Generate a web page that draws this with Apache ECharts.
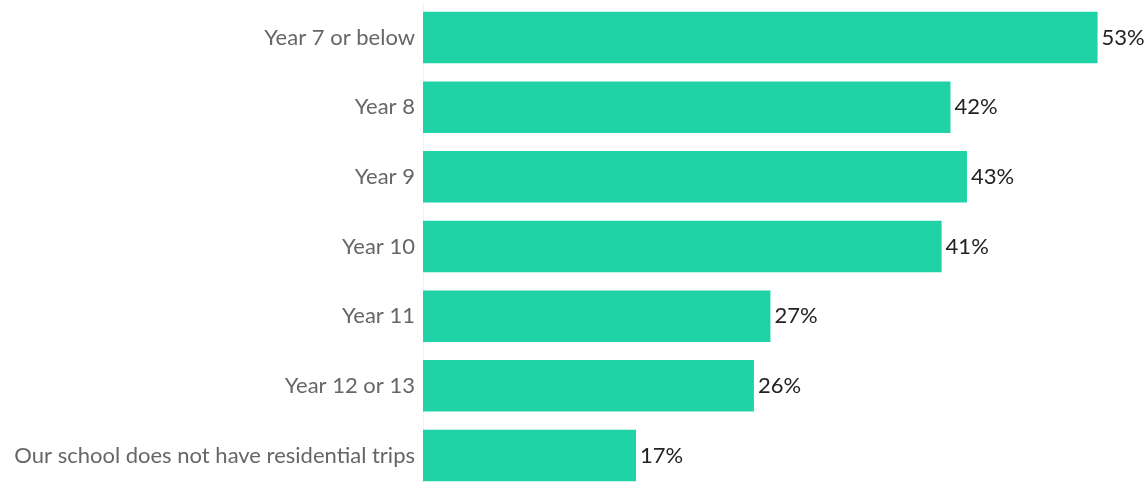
<!DOCTYPE html>
<html><head><meta charset="utf-8">
<script src="https://cdn.jsdelivr.net/npm/echarts@6/dist/echarts.min.js"></script>
<style>html,body{margin:0;padding:0;background:#fff}#c{width:1146px;height:482px}</style>
</head><body><div id="c"></div>
<script>
var categories = ["Year 7 or below","Year 8","Year 9","Year 10","Year 11","Year 12 or 13","Our school does not have residential trips"];
var values = [53.2, 41.6, 42.9, 40.9, 27.4, 26.1, 16.8];
var chart = echarts.init(document.getElementById('c'));
chart.setOption({
  animation:false,
  grid:{left:423, top:2.7, height:487.6, width:697.4, containLabel:false, outerBoundsMode:'none'},
  xAxis:{type:'value', min:0, max:55, show:false},
  yAxis:{type:'category', data:categories, inverse:true,
    axisLine:{show:true, lineStyle:{color:'#f2f2f2', width:1}},
    axisTick:{show:false},
    axisLabel:{color:'#666666', fontFamily:'Lato', fontSize:22, margin:8}},
  series:[{type:'bar', data:values, barCategoryGap:'26%',
    itemStyle:{color:'#20D3A7'},
    label:{show:true, position:'right', distance:4, color:'#222222', fontFamily:'Lato', fontSize:22,
      formatter:function(p){return Math.round(p.value)+'%';}}}]
});
</script></body></html>
